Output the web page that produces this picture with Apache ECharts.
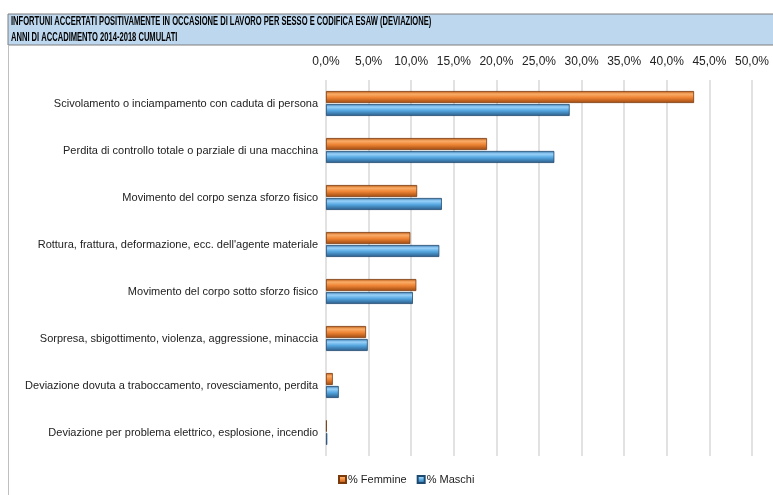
<!DOCTYPE html>
<html><head><meta charset="utf-8">
<script src="https://cdn.jsdelivr.net/npm/echarts@6/dist/echarts.min.js"></script>
<style>html,body{margin:0;padding:0;background:#fff}#c{width:773px;height:495px}</style>
</head><body><div id="c"></div>
<script>
const categories = [
  "Scivolamento o inciampamento con caduta di persona",
  "Perdita di controllo totale o parziale di una macchina",
  "Movimento del corpo senza sforzo fisico",
  "Rottura, frattura, deformazione, ecc. dell'agente materiale",
  "Movimento del corpo sotto sforzo fisico",
  "Sorpresa, sbigottimento, violenza, aggressione, minaccia",
  "Deviazione dovuta a traboccamento, rovesciamento, perdita",
  "Deviazione per problema elettrico, esplosione, incendio"
];
const femmine = [43.2, 18.9, 10.7, 9.9, 10.6, 4.7, 0.8, 0.1];
const maschi  = [28.6, 26.8, 13.6, 13.3, 10.2, 4.9, 1.5, 0.15];
const tickLabels = ["0,0%","5,0%","10,0%","15,0%","20,0%","25,0%","30,0%","35,0%","40,0%","45,0%","50,0%"];
const titleLines = ["INFORTUNI ACCERTATI POSITIVAMENTE IN OCCASIONE DI LAVORO PER SESSO E CODIFICA ESAW (DEVIAZIONE)", "ANNI DI ACCADIMENTO 2014-2018 CUMULATI"];

const orangeGrad = new echarts.graphic.LinearGradient(0,0,0,1,[
  {offset:0,color:'#b8560f'},{offset:0.25,color:'#fbae6a'},{offset:0.55,color:'#ee8434'},{offset:1,color:'#9c4810'}]);
const blueGrad = new echarts.graphic.LinearGradient(0,0,0,1,[
  {offset:0,color:'#3574ad'},{offset:0.25,color:'#9ad3fa'},{offset:0.55,color:'#55a6e0'},{offset:1,color:'#2a5a86'}]);

const chart = echarts.init(document.getElementById('c'), null, {renderer:'canvas'});
const titleFont = 'bold 12.5px "Liberation Sans", Arial, sans-serif';
chart.setOption({
  animation:false,
  textStyle:{fontFamily:'Liberation Sans, Arial, sans-serif'},
  graphic:[
    {type:'rect', shape:{x:8,y:14,width:770,height:31}, style:{fill:'#bdd7ee',stroke:'#7f7f7f',lineWidth:1}},
    {type:'line', shape:{x1:8.5,y1:45,x2:8.5,y2:495}, style:{stroke:'#bfbfbf',lineWidth:1}},
    {type:'text', x:11, y:15.5, scaleX:0.606, style:{text:titleLines[0], fill:'#000', font:titleFont}},
    {type:'text', x:11, y:31.5, scaleX:0.606, style:{text:titleLines[1], fill:'#000', font:titleFont}}
  ],
  legend:{
    bottom:5, left:333, itemWidth:7, itemHeight:7, itemGap:10,
    icon:'rect',
    textStyle:{fontSize:11,color:'#222',fontFamily:'Liberation Sans, Arial', padding:[0,0,0,-3]},
    data:['% Femmine','% Maschi']
  },
  grid:{left:326, right:21, top:80, height:376, containLabel:false, outerBoundsMode:'none'},
  xAxis:{
    type:'value', position:'top', min:0, max:50, interval:5,
    axisLabel:{formatter:(v)=>tickLabels[Math.round(v/5)], fontSize:12, color:'#222', margin:12},
    axisLine:{show:false}, axisTick:{show:false},
    splitLine:{lineStyle:{color:'#d9d9d9',width:1.5}}
  },
  yAxis:{
    type:'category', inverse:true, data:categories,
    axisLine:{show:false}, axisTick:{show:false},
    axisLabel:{fontSize:11, color:'#222', margin:8}
  },
  series:[
    {name:'% Femmine', type:'bar', data:femmine, barWidth:12, barGap:'8%',
     itemStyle:{color:orangeGrad, borderColor:'#7a3a0c', borderWidth:0.8}},
    {name:'% Maschi', type:'bar', data:maschi, barWidth:12,
     itemStyle:{color:blueGrad, borderColor:'#1f4a70', borderWidth:0.8}}
  ]
});
</script></body></html>
